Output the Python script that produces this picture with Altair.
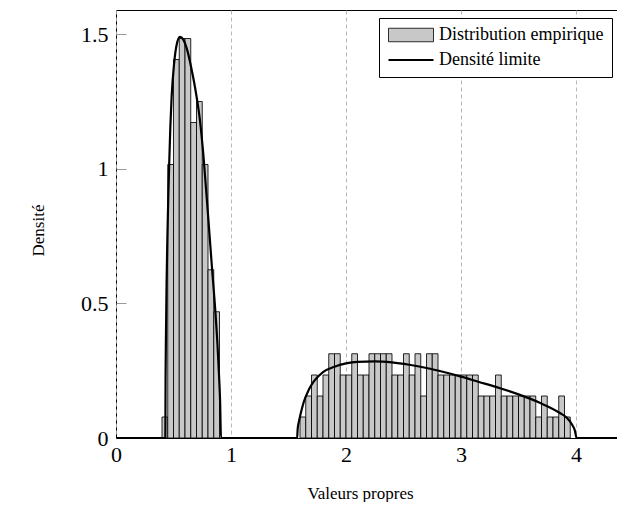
import altair as alt
import pandas as pd

# ---- data -------------------------------------------------------------
BIN_W = 0.05
SERIES_HIST = "Distribution empirique"
SERIES_CURVE = "Densité limite"

# left bulk histogram (bin starts, densities)
left_bin_starts = [0.40, 0.45, 0.50, 0.55, 0.60, 0.65, 0.70, 0.75, 0.80, 0.85]
left_heights = [0.078, 1.016, 1.406, 1.484, 1.484, 1.172, 1.250, 1.016, 0.625, 0.469]

# right bulk histogram (bins of width 0.05 starting at 1.60)
right_first_bin = 1.60
right_heights = [
    0.078, 0.156, 0.234, 0.156, 0.234, 0.313, 0.313, 0.234, 0.234, 0.313,
    0.234, 0.234, 0.313, 0.313, 0.313, 0.313, 0.234, 0.234, 0.313, 0.234,
    0.313, 0.156, 0.313, 0.313, 0.234, 0.234, 0.234, 0.234, 0.234, 0.234,
    0.234, 0.156, 0.156, 0.156, 0.234, 0.156, 0.156, 0.156, 0.156, 0.156,
    0.156, 0.078, 0.156, 0.078, 0.078, 0.156, 0.078,
]

# limiting density curve
curve_x = [
    0.0, 0.429, 0.431, 0.435, 0.440, 0.447, 0.455, 0.462, 0.472, 0.484,
    0.505, 0.527, 0.556, 0.585, 0.620, 0.657, 0.700, 0.730, 0.760, 0.800,
    0.835, 0.864, 0.882, 0.895, 0.905, 0.913,
    1.575, 1.580, 1.590, 1.603, 1.630, 1.675, 1.720, 1.800, 1.900, 2.000,
    2.100, 2.250, 2.400, 2.550, 2.700, 2.850, 3.000, 3.150, 3.340, 3.500,
    3.690, 3.860, 3.920, 3.965, 3.990, 4.005, 4.50,
]
curve_y = [
    0.0, 0.0, 0.22, 0.40, 0.58, 0.75, 0.90, 1.01, 1.15, 1.27,
    1.39, 1.46, 1.49, 1.48, 1.44, 1.37, 1.27, 1.18, 1.05, 0.83,
    0.63, 0.47, 0.35, 0.24, 0.14, 0.0,
    0.0, 0.035, 0.060, 0.085, 0.130, 0.178, 0.210, 0.245, 0.265, 0.277,
    0.283, 0.285, 0.281, 0.272, 0.260, 0.245, 0.228, 0.209, 0.185, 0.162,
    0.130, 0.093, 0.075, 0.050, 0.028, 0.0, 0.0,
]

x_ticks = [0, 1, 2, 3, 4]
y_ticks = [0, 0.5, 1, 1.5]

# ---- tables -----------------------------------------------------------
starts = left_bin_starts + [round(right_first_bin + BIN_W * i, 2) for i in range(len(right_heights))]
heights = left_heights + right_heights
hist = pd.DataFrame({
    "x0": starts,
    "x1": [round(s + BIN_W, 2) for s in starts],
    "d": heights,
    "serie": SERIES_HIST,
})
curve = pd.DataFrame({"x": curve_x, "y": curve_y})

FONT = "Liberation Serif"

x_scale = alt.Scale(domain=[0, 4.426], nice=False, zero=False)
y_scale = alt.Scale(domain=[0, 1.59], nice=False, zero=False)

x_axis = alt.Axis(
    values=x_ticks, format="~g", title="Valeurs propres",
    grid=True, gridDash=[4, 3], gridColor="#b0b0b0", gridWidth=0.9,
    ticks=False, tickSize=0, labelPadding=6, labelFlush=False,
    titleX=244, titleY=55, titleBaseline="middle", titleAlign="center",
)
# inward ticks: axis shifted 10px into the plot, ticks pointing back to the frame
y_axis = alt.Axis(
    values=y_ticks, format="~g", title="Densité",
    grid=False, ticks=True, tickSize=10, tickColor="#999999", tickWidth=1,
    tickOpacity={"expr": "datum.value == 0 ? 0 : 1"},
    domain=False, offset=-10,
    labelPadding=8, labelFlush=False,
    titleX=-88, titleY=220, titleAngle=270, titleAlign="center", titleBaseline="middle",
)

RECT_PATH = "M-1,-0.9L5,-0.9L5,0.9L-1,0.9Z"
LINE_PATH = "M-1,0L5,0"

bars = alt.Chart(hist).mark_bar(stroke="black", strokeWidth=0.85).encode(
    x=alt.X("x0:Q", scale=x_scale, axis=x_axis),
    x2="x1:Q",
    y=alt.Y("d:Q", scale=y_scale, axis=y_axis),
    y2=alt.datum(0),
    fill=alt.Fill(
        "serie:N",
        scale=alt.Scale(domain=[SERIES_HIST, SERIES_CURVE], range=["#c8c8c8", "#000000"]),
        legend=alt.Legend(
            title=None, orient="none", legendX=263, legendY=8,
            padding=8, strokeColor="black", fillColor="white",
            labelFont=FONT, labelFontSize=18, labelColor="black",
            labelOffset=34, rowPadding=7, labelLimit=400,
            symbolSize=225,
            symbolType={"expr": f"datum.index === 1 ? '{LINE_PATH}' : '{RECT_PATH}'"},
            symbolStrokeColor="black",
            symbolStrokeWidth={"expr": "datum.index === 1 ? 2.2 : 0.8"},
        ),
    ),
)

line = alt.Chart(curve).mark_line(
    color="black", strokeWidth=2.2, interpolate="monotone", clip=True
).encode(x="x:Q", y="y:Q")

chart = (
    alt.layer(bars, line)
    .properties(
        width=509, height=428,
        padding={"left": 108, "top": 2, "right": -8, "bottom": 64},
        autosize=alt.AutoSizeParams(type="none"),
        background="white",
    )
    .configure_view(stroke="black", strokeWidth=1)
    .configure_axis(
        labelFont=FONT, labelFontSize=22, labelColor="black",
        titleFont=FONT, titleFontSize=17, titleFontWeight="normal", titleColor="black",
        domainColor="black", domainWidth=1,
    )
)

chart.save("out.html", embed_options={"renderer": "svg", "actions": False})
